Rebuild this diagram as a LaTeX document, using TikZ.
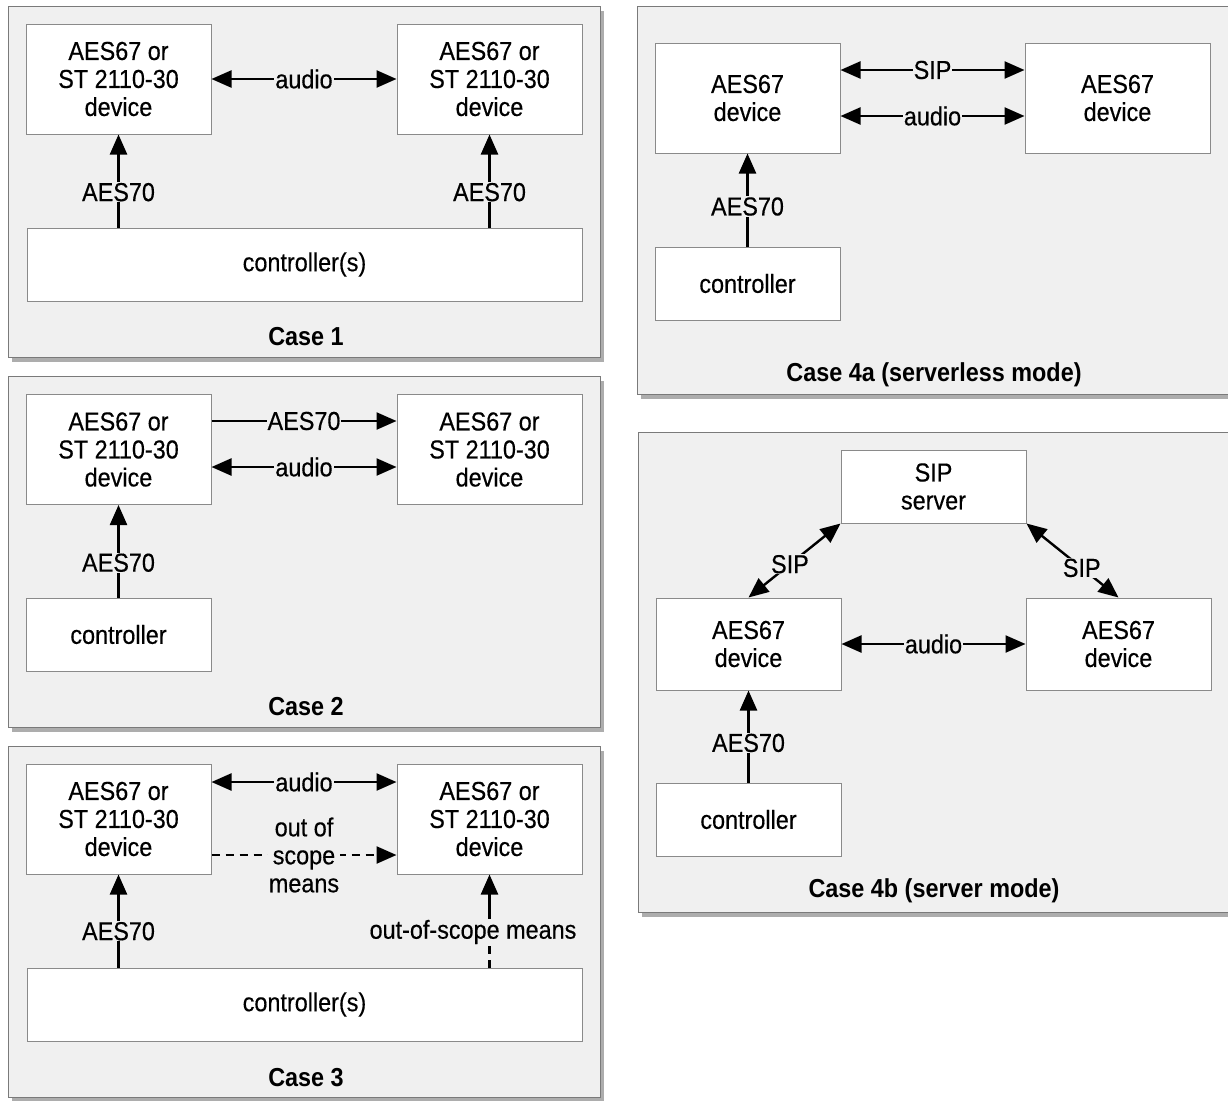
\documentclass[tikz,border=0pt]{standalone}
\usepackage{fontspec}
\setmainfont{Liberation Sans}[FakeStretch=0.9, UprightFeatures={FakeBold=0.4}]
\usetikzlibrary{arrows.meta,shadows,calc}
\definecolor{panelfill}{HTML}{F0F0F0}
\definecolor{panelborder}{HTML}{7A7A7A}
\definecolor{boxborder}{HTML}{8A8A8A}
\newcommand\mainsz{\fontsize{26}{28}\selectfont}
\newcommand\capsz{\bfseries\fontsize{26}{28}\selectfont}
\begin{document}
\begin{tikzpicture}[x=1pt,y=-1pt,
  panel/.style={draw=panelborder, fill=panelfill, line width=1pt, inner sep=0pt,
    drop shadow={shadow xshift=4pt, shadow yshift=-5pt, opacity=0.4, fill=black!80}},
  devbox/.style={draw=boxborder, fill=white, line width=1pt, minimum width=185pt,
    minimum height=110pt, align=center, inner sep=0pt, font=\mainsz},
  ctrlbox/.style={devbox, minimum height=73pt},
  lbl/.style={fill=panelfill, inner sep=1pt, font=\mainsz, align=center},
  caption/.style={font=\capsz, inner sep=0pt},
  arr/.style={line width=2.4pt, -{Triangle[length=20pt,width=17pt]}},
  darr/.style={line width=2.4pt, {Triangle[length=20pt,width=17pt]}-{Triangle[length=20pt,width=17pt]}},
  conn/.style={line width=2.4pt}
]
\useasboundingbox (0,0) rectangle (1228,1100);
\fill[white] (0,0) rectangle (1228,1100);
\clip (0,0) rectangle (1228,1100);

% ---------- panels ----------
\node[panel, minimum width=592pt, minimum height=351pt] (p1) at (304,181.5) {};
\node[panel, minimum width=592pt, minimum height=351pt] (p2) at (304,551.5) {};
\node[panel, minimum width=592pt, minimum height=351pt] (p3) at (304,921.5) {};
\node[panel, minimum width=603pt, minimum height=388pt] (p4a) at (938.5,200) {};
\node[panel, minimum width=602pt, minimum height=480pt] (p4b) at (939,672) {};

% ---------- Case 1 ----------
\node[devbox] (d1a) at (118.5,79) {AES67 or\\ST 2110-30\\device};
\node[devbox] (d1b) at (489.5,79) {AES67 or\\ST 2110-30\\device};
\node[ctrlbox, minimum width=555pt] (c1) at (304.5,264.5) {controller(s)};
\node[caption] (cap1) at (306,337) {Case 1};
\draw[darr] (d1a.east) -- node[lbl] {audio} (d1b.west);
\draw[arr] (c1.north -| d1a.south) -- node[lbl,pos=0.38] {AES70} (d1a.south);
\draw[arr] (c1.north -| d1b.south) -- node[lbl,pos=0.38] {AES70} (d1b.south);

% ---------- Case 2 ----------
\node[devbox] (d2a) at (118.5,449.5) {AES67 or\\ST 2110-30\\device};
\node[devbox] (d2b) at (489.5,449.5) {AES67 or\\ST 2110-30\\device};
\node[ctrlbox] (c2) at (118.5,634.5) {controller};
\node[caption] (cap2) at (306,707) {Case 2};
\draw[arr] ([yshift=28.5pt]d2a.east) -- node[lbl] {AES70} ([yshift=28.5pt]d2b.west);
\draw[darr] ([yshift=-17.5pt]d2a.east) -- node[lbl] {audio} ([yshift=-17.5pt]d2b.west);
\draw[arr] (c2.north) -- node[lbl,pos=0.376] {AES70} (d2a.south);

% ---------- Case 3 ----------
\node[devbox] (d3a) at (118.5,819) {AES67 or\\ST 2110-30\\device};
\node[devbox] (d3b) at (489.5,819) {AES67 or\\ST 2110-30\\device};
\node[ctrlbox, minimum width=555pt] (c3) at (304.5,1004.5) {controller(s)};
\node[caption] (cap3) at (306,1078) {Case 3};
\draw[darr] ([yshift=37pt]d3a.east) -- node[lbl] {audio} ([yshift=37pt]d3b.west);
\draw[arr, dash pattern=on 8pt off 6pt] ([yshift=-36pt]d3a.east) -- node[lbl] {out of\\scope\\means} ([yshift=-36pt]d3b.west);
\draw[arr] (c3.north -| d3a.south) -- node[lbl,pos=0.39] {AES70} (d3a.south);
\node[lbl, fill=none] (oos) at (473,932) {out-of-scope means};
\draw[conn, dash pattern=on 8pt off 6pt] (c3.north -| d3b.south) -- (oos.south -| d3b.south);
\draw[arr] (oos.north -| d3b.south) -- (d3b.south);

% ---------- Case 4a ----------
\node[devbox] (e1) at (747.5,98) {AES67\\device};
\node[devbox] (e2) at (1117.5,98) {AES67\\device};
\node[ctrlbox] (c4a) at (747.5,283.5) {controller};
\node[caption] (cap4a) at (934,375) {Case 4a (serverless mode)};
\draw[darr] ([yshift=28pt]e1.east) -- node[lbl] {SIP} ([yshift=28pt]e2.west);
\draw[darr] ([yshift=-18pt]e1.east) -- node[lbl] {audio} ([yshift=-18pt]e2.west);
\draw[arr] (c4a.north) -- node[lbl,pos=0.43] {AES70} (e1.south);

% ---------- Case 4b ----------
\node[ctrlbox] (srv) at (933.5,486.5) {SIP\\server};
\node[devbox, minimum height=92pt] (f1) at (748.5,644) {AES67\\device};
\node[devbox, minimum height=92pt] (f2) at (1118.5,644) {AES67\\device};
\node[ctrlbox] (c4b) at (748.5,819.5) {controller};
\node[caption] (cap4b) at (934,891) {Case 4b (server mode)};
\draw[darr] (f1.east) -- node[lbl] {audio} (f2.west);
\draw[darr] (srv.south west) -- node[lbl,pos=0.55] {SIP} (f1.north);
\draw[darr] (srv.south east) -- node[lbl,pos=0.6] {SIP} (f2.north);
\draw[arr] (c4b.north) -- node[lbl,pos=0.43] {AES70} (f1.south);
\end{tikzpicture}
\end{document}
